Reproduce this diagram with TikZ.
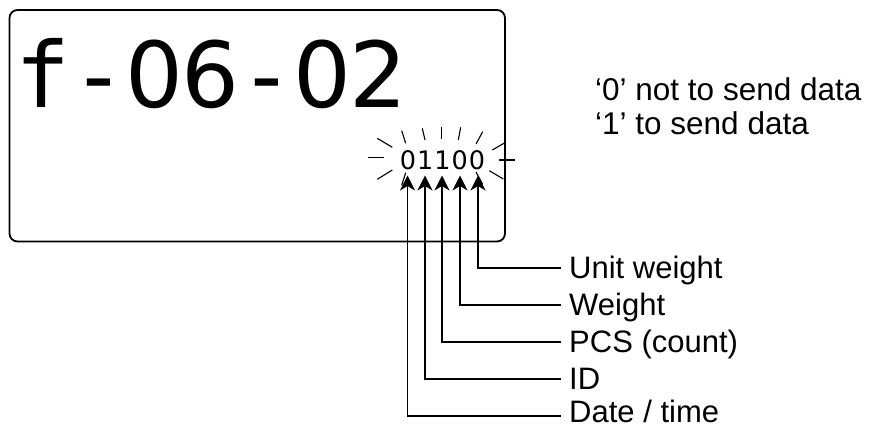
\documentclass[tikz,border=0pt]{standalone}
\usepackage{fontspec}
\setmainfont{Liberation Sans}
\newfontfamily\lcdfont{DejaVu Sans Mono}
\newfontfamily\lcddigits{DejaVu Sans}
\newcommand{\bigc}[2]{\makebox[56pt][c]{#1#2}}
\newcommand{\smc}[1]{\makebox[17.3pt][c]{#1}}
\usetikzlibrary{arrows.meta}
\begin{document}
\begin{tikzpicture}[x=1pt,y=-1pt,
  frame/.style={line width=1.8pt, rounded corners=8pt},
  ray/.style={line width=1.1pt},
  ptr/.style={line width=1.4pt, -{Stealth[length=15pt,width=15pt,inset=4.5pt]}},
  lbl/.style={anchor=base west, inner sep=0pt, font=\fontsize{31}{36}\selectfont},
  note/.style={anchor=base west, inner sep=0pt, font=\fontsize{31.5}{36}\selectfont}]
\useasboundingbox (0,0) rectangle (870,425);
\draw[frame] (9.5,10) rectangle (505,241.5);
\node[anchor=base, inner sep=0pt, font=\fontsize{91}{100}\selectfont] (code) at (210.5,108)
  {\bigc{\lcdfont}{f}\bigc{\lcdfont}{-}\bigc{\lcddigits}{0}\bigc{\lcddigits}{6}\bigc{\lcdfont}{-}\bigc{\lcddigits}{0}\bigc{\lcddigits}{2}};
\node[anchor=base, inner sep=0pt, font=\lcddigits\fontsize{25.5}{30}\selectfont] (bits) at (442.5,169.5)
  {\smc{0}\smc{1}\smc{1}\smc{0}\smc{0}};
% sunburst
\draw[ray] (368.3,157.7) -- (384,157.7);
\draw[ray] (377.3,138.3) -- (392.3,147.3);
\draw[ray] (377.3,179.3) -- (392.3,170);
\draw[ray] (401.7,130.7) -- (405.7,143.3);
\draw[ray] (422.3,128.3) -- (425,140);
\draw[ray] (441.7,127.3) -- (441.7,139.3);
\draw[ray] (460.7,127.3) -- (458.3,140);
\draw[ray] (482.7,131.7) -- (476,144);
\draw[ray] (492.3,150) -- (505,142.7);
\draw[ray] (499.3,160) -- (515,160);
\draw[ray] (489.3,170.7) -- (503.3,179);
\draw[ray] (401.7,185.3) -- (405.7,172.7);
\draw[ray] (482.7,184.3) -- (476,172);
% labels
\node[lbl] (l1) at (569,278) {Unit weight};
\node[lbl] (l2) at (569,315) {Weight};
\node[lbl] (l3) at (569,352) {PCS (count)};
\node[lbl] (l4) at (569,389) {ID};
\node[lbl] (l5) at (569,422.5) {Date / time};
\coordinate (e1) at (560.5,268);
\coordinate (e2) at (560.5,305);
\coordinate (e3) at (560.5,342);
\coordinate (e4) at (560.5,379);
\coordinate (e5) at (560.5,416);
\coordinate (t1) at (478,175.5);
\coordinate (t2) at (460,175.5);
\coordinate (t3) at (442,175.5);
\coordinate (t4) at (425,175.5);
\coordinate (t5) at (407.5,175.5);
\draw[ptr] (e1) -| (t1);
\draw[ptr] (e2) -| (t2);
\draw[ptr] (e3) -| (t3);
\draw[ptr] (e4) -| (t4);
\draw[ptr] (e5) -| (t5);
\node[note] (n1) at (595,101) {‘0’ not to send data};
\node[note] (n2) at (595,135) {‘1’ to send data};
\end{tikzpicture}
\end{document}
